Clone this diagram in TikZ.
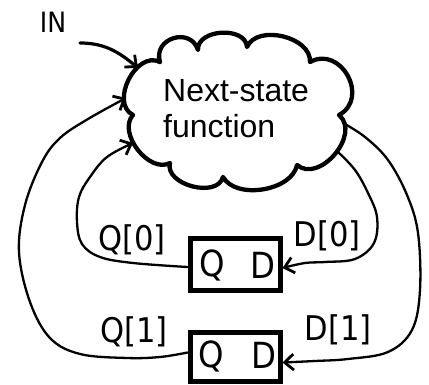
\documentclass[tikz,border=0pt]{standalone}
\usepackage{fontspec}
\setmainfont{Liberation Sans}
\newfontfamily\handfont{DejaVu Sans Condensed}
\usetikzlibrary{arrows.meta}
\begin{document}
\begin{tikzpicture}[x=1pt,y=1pt,
  wire/.style={line width=2.3pt, line cap=round, line join=round},
  barb/.style={-{Straight Barb[length=9pt,width=16pt,line width=2.8pt]}},
  cloudline/.style={line width=4.3pt, line cap=round, line join=round},
  ffbox/.style={draw, line width=5pt, minimum width=90pt, inner sep=0pt},
  pin/.style={font=\handfont\fontsize{36}{36}\selectfont, inner sep=0pt},
  hand/.style={font=\handfont\fontsize{34}{34}\selectfont, inner sep=0pt, anchor=base},
  fn/.style={font=\fontsize{32}{32}\selectfont, inner sep=0pt, anchor=base west}]
\useasboundingbox (0,0) rectangle (429,-385);

% notches of the cloud outline
\coordinate (N1) at (160,-62);
\coordinate (N2) at (198,-50);
\coordinate (N3) at (247,-47);
\coordinate (N4) at (310,-62);
\coordinate (N5) at (339,-115);
\coordinate (N6) at (297,-165);
\coordinate (N7) at (223,-177);
\coordinate (N8) at (170,-163);
\coordinate (N9) at (133,-115);

% next-state function cloud
\draw[cloudline] (N1) to[bend left=90,looseness=1.6] (N2)
  to[bend left=90,looseness=1.1] (N3)
  to[bend left=80] (N4)
  to[bend left=90,looseness=1.5] (N5)
  to[bend left=90,looseness=1.15] (N6)
  to[bend left=70,looseness=0.9] (N7)
  to[bend left=90,looseness=1.05] (N8)
  to[bend left=80] (N9)
  to[bend left=90,looseness=1.15] (N1);
\node[fn] (fn1) at (163,-102) {Next-state};
\node[fn] (fn2) at (163,-138) {function};

% ports on the cloud
\coordinate (inport) at (138,-68);
\coordinate (q1port) at (126,-98);
\coordinate (q0port) at (133,-143);
\coordinate (d1port) at (343,-123);
\coordinate (d0port) at (338,-152);
\coordinate (instart) at (80,-43);

% state flip-flops
\node[ffbox, minimum height=52pt] (ff0) at (235,-265) {};
\node[ffbox, minimum height=49pt] (ff1) at (235,-356.5) {};
\node[pin] (q0) at (212,-265) {Q};
\node[pin] (d0) at (263,-265) {D};
\node[pin] (q1) at (211,-356) {Q};
\node[pin] (d1) at (264,-355) {D};

% input
\node[hand, font=\handfont\fontsize{28}{28}\selectfont] (in) at (53,-33) {IN};
\draw[wire, line width=3.2pt, barb] (instart) to[out=0,in=140] (inport);

% feedback from the outputs
\draw[wire, barb] plot[smooth, tension=0.6] coordinates {
  ([yshift=4pt]ff1.west) (160,-357) (127,-358) (80,-354) (50,-338) (30,-302)
  (19,-252) (25,-205) (42,-162) (60,-138) (88,-119) (q1port)};
\draw[wire, barb] plot[smooth, tension=0.6] coordinates {
  ([yshift=-2pt]ff0.west) (133,-263) (100,-257) (82,-244) (77,-222)
  (79,-197) (90,-177) (107,-157) (q0port)};

% next-state outputs into the flip-flops
\draw[wire, barb] plot[smooth, tension=0.6] coordinates {
  (d0port) (355,-170) (368,-193) (377,-217) (374,-243) (355,-259)
  (325,-262) (305,-263) ([yshift=-3pt]ff0.east)};
\draw[wire, barb] plot[smooth, tension=0.6] coordinates {
  (d1port) (365,-137) (388,-160) (407,-195) (418,-233) (420,-290)
  (412,-330) (388,-352) (348,-359) (315,-361) ([yshift=-6pt]ff1.east)};

% signal names
\node[hand] (lq0) at (132,-251) {Q[0]};
\node[hand] (ld0) at (327,-247) {D[0]};
\node[hand] (lq1) at (134,-342) {Q[1]};
\node[hand] (ld1) at (338,-341) {D[1]};
\end{tikzpicture}
\end{document}
